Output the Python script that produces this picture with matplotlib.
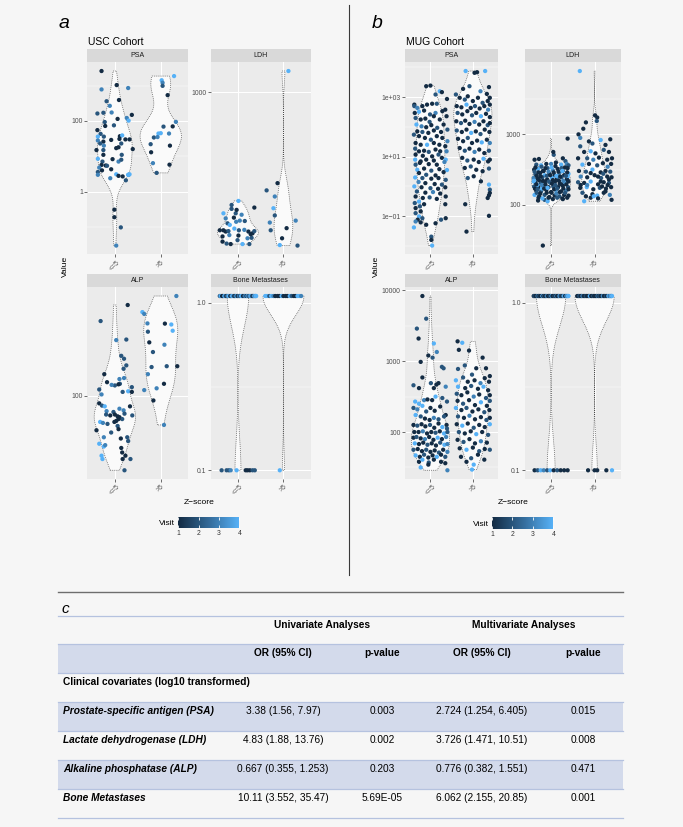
import numpy as np
import matplotlib
matplotlib.use('Agg')
import matplotlib.pyplot as plt
from matplotlib.colors import LinearSegmentedColormap, Normalize
from matplotlib.cm import ScalarMappable
from matplotlib.patches import Rectangle

W, H = 683, 827
plt.rcParams['font.family'] = ['Liberation Sans', 'DejaVu Sans']

groups = ['<=5', '>5']

# ---------------- USC cohort (raw values) ----------------
usc_psa_le5 = [2570, 776, 1030, 850, 360, 267, 390, 162, 170, 173, 114, 121, 148, 93, 102, 72, 75, 55, 43, 36,
               36, 37, 39, 30, 31, 30, 28, 26, 23, 29, 23, 20, 15, 15, 17, 18, 16, 11, 11, 8.5,
               7.1, 8.3, 7.1, 8, 5.7, 5.5, 5.4, 4.8, 3.6, 4, 4.3, 3.1, 3, 2.4, 2.7, 2.1, 3, 2.8, 3, 0.31,
               0.19, 0.098, 0.030, 3.1]
usc_psa_le5_jit = [-0.29, -0.29, 0.04, 0.29, -0.18, -0.11, 0.09, -0.38, -0.25, -0.07, 0.06, 0.26, 0.37, -0.22, 0.30,
                   -0.21, -0.02, -0.38, -0.31, -0.37, -0.24, 0.11, 0.16, 0.23, 0.10, 0.32, -0.37, -0.25, -0.32, -0.08,
                   0.14, -0.24, -0.40, -0.25, 0.03, 0.08, 0.39, -0.25, 0.15, -0.37, -0.27, -0.05, 0.08, 0.14, -0.29,
                   -0.20, -0.17, -0.34, -0.37, -0.28, -0.08, 0.03, -0.37, -0.10, 0.17, 0.24, 0.30, 0.08, 0.29, -0.01,
                   -0.01, 0.13, 0.03, 0.32]
usc_psa_le5_vis = [1, 3, 1, 3, 2, 3, 1, 2, 2, 3, 1, 3, 1, 2, 4, 1, 2, 1, 2, 4, 2, 1, 4, 1, 1, 1, 3, 1, 2, 1,
                   2, 3, 1, 2, 1, 1, 1, 1, 2, 4, 2, 1, 3, 2, 1, 1, 2, 3, 2, 1, 1, 4, 3, 3, 1, 2, 3, 1, 4, 1,
                   1, 2, 3, 4]
usc_psa_gt5 = [1850, 1410, 1200, 980, 535, 70, 94, 69, 44, 44, 45, 34, 35, 22, 20, 13, 6.4, 5.8, 3.4]
usc_psa_gt5_jit = [0.29, 0.02, 0.04, 0.04, 0.15, 0.26, 0.33, 0.06, 0.18, -0.05, 0.0, -0.15, -0.07, -0.22, 0.20,
                   -0.21, -0.17, 0.19, -0.09]
usc_psa_gt5_vis = [4, 4, 3, 2, 1, 1, 3, 2, 3, 4, 4, 2, 3, 2, 1, 1, 3, 1, 2]

usc_ldh_le5 = [249, 287, 266, 262, 235, 249, 245, 237, 229, 222, 218, 226, 228, 205, 205, 202, 203, 209, 205, 206,
               202, 198, 203, 191, 194, 193, 187, 188, 180, 176, 175, 183, 175, 175, 196, 274, 259]
usc_ldh_le5_jit = [-0.32, 0.01, 0.36, -0.14, -0.27, -0.05, 0.08, -0.09, 0.04, -0.23, -0.18, -0.04, 0.15, -0.40,
                   -0.32, -0.27, -0.21, -0.08, 0.02, 0.14, 0.23, 0.32, 0.36, -0.34, -0.19, 0.01, 0.21, 0.30, -0.34,
                   -0.25, -0.16, -0.01, 0.10, 0.25, 0.28, -0.14, -0.03]
usc_ldh_le5_vis = [4, 4, 1, 2, 3, 2, 3, 1, 3, 2, 4, 3, 2, 1, 1, 1, 2, 4, 2, 3, 1, 1, 2, 1, 3, 1, 3, 2, 1, 2,
                   1, 2, 4, 2, 1, 2, 1]
usc_ldh_gt5 = [1274, 352, 324, 302, 264, 243, 224, 229, 210, 205, 187, 173, 172]
usc_ldh_gt5_jit = [0.11, -0.13, -0.37, -0.19, -0.22, -0.19, -0.30, 0.27, 0.07, -0.28, -0.03, -0.08, 0.31]
usc_ldh_gt5_vis = [4, 1, 2, 3, 4, 2, 3, 3, 1, 2, 1, 4, 2]

usc_alp_le5 = [400, 313, 234, 236, 184, 176, 159, 139, 151, 129, 131, 123, 117, 118, 110, 102, 120, 119, 107, 114,
               106, 106, 89, 86, 79, 78, 82, 80, 76, 75, 74, 75, 73, 72, 70, 74, 68, 70, 67, 66,
               65, 67, 63, 59, 57, 53, 48, 52, 53, 50, 46, 47, 45, 42, 40, 40, 38, 38, 38, 32, 60, 85, 85]
usc_alp_le5_jit = [0.28, -0.31, 0.03, 0.25, 0.14, 0.20, 0.25, -0.23, 0.19, 0.10, 0.20, -0.17, 0.0, -0.07, -0.34,
                   -0.29, 0.11, 0.08, 0.29, 0.37, 0.17, 0.37, -0.34, -0.28, -0.18, -0.03, 0.10, 0.19, 0.21, -0.19,
                   -0.10, 0.0, 0.06, 0.10, 0.16, 0.38, 0.03, 0.08, -0.32, -0.26, -0.16, -0.01, 0.06, -0.40, -0.08,
                   -0.24, -0.34, 0.13, 0.27, 0.29, -0.24, -0.21, 0.14, 0.16, 0.23, -0.29, -0.27, 0.17, 0.34, 0.21,
                   0.08, 0.33, -0.22]
usc_alp_le5_vis = [1, 2, 3, 2, 2, 2, 2, 1, 2, 3, 3, 1, 2, 3, 2, 3, 2, 1, 4, 2, 2, 1, 1, 2, 3, 2, 3, 3, 2, 2,
                   1, 1, 1, 1, 2, 2, 1, 1, 4, 3, 2, 1, 2, 1, 2, 3, 4, 1, 2, 2, 4, 3, 1, 1, 1, 4, 4, 1, 2, 2,
                   1, 1, 4]
usc_alp_gt5 = [459, 359, 349, 302, 301, 297, 270, 266, 226, 218, 195, 155, 157, 157, 139, 120, 112, 109, 93, 64]
usc_alp_gt5_jit = [0.34, -0.40, -0.36, -0.29, 0.09, 0.23, 0.26, -0.28, -0.25, 0.08, -0.17, -0.20, 0.13, 0.36,
                   -0.28, 0.07, -0.09, -0.36, -0.16, 0.07]
usc_alp_gt5_vis = [3, 4, 3, 3, 1, 4, 4, 2, 1, 3, 2, 2, 2, 1, 3, 1, 3, 3, 1, 3]

# bone metastases coded 1.1 (yes) / 0.1 (no)
usc_bone_le5_yes_jit = [-0.40, -0.38, -0.35, -0.33, -0.30, -0.27, -0.25, -0.23, -0.20, -0.17, -0.15, -0.13, -0.10,
                        -0.08, -0.06, -0.03, -0.01, 0.02, 0.04, 0.07, 0.09, 0.11, 0.14, 0.16, 0.19, 0.21, 0.23,
                        0.26, 0.28, 0.30, 0.32, 0.34, 0.36, 0.38, 0.39, 0.40]
usc_bone_le5_yes_vis = [2, 4, 1, 1, 4, 2, 1, 3, 4, 1, 2, 4, 3, 1, 2, 4, 1, 3, 2, 4, 4, 1, 2, 3, 1, 4, 2, 3, 4, 3,
                        1, 2, 4, 3, 4, 4]
usc_bone_le5_no_jit = [-0.36, -0.25, -0.20, -0.16, -0.03, 0.17, 0.21, 0.26, 0.32, 0.37]
usc_bone_le5_no_vis = [2, 2, 2, 3, 4, 1, 1, 1, 2, 2]
usc_bone_gt5_yes_jit = [-0.40, -0.36, -0.31, -0.27, -0.22, -0.18, -0.13, -0.09, -0.04, 0.0, 0.05, 0.09, 0.14, 0.18,
                        0.23, 0.27, 0.31, 0.35, 0.39]
usc_bone_gt5_yes_vis = [4, 4, 2, 4, 3, 1, 1, 1, 4, 1, 1, 1, 4, 2, 1, 1, 4, 4, 3]
usc_bone_gt5_no_jit = [-0.08]
usc_bone_gt5_no_vis = [4]

# ---------------- MUG cohort (log10 values) ----------------
mug_psa_le5_log = [3.37, 3.39, 3.09, 3.20, 3.17, 2.94, 2.75, 2.70, 2.64, 2.70, 2.75, 2.78, 2.78, 2.58, 2.47, 2.51,
                   2.55, 2.42, 2.47, 2.53, 2.30, 2.25, 2.28, 2.17, 2.36, 2.25, 2.36, 2.08, 2.02, 1.99, 2.06, 1.97,
                   2.08, 1.85, 1.83, 1.80, 1.88, 1.83, 1.91, 1.74, 1.69, 1.63, 1.57, 1.69, 1.63, 1.52, 1.46, 1.40,
                   1.40, 1.46, 1.40, 1.35, 1.27, 1.18, 1.20, 1.16, 1.24, 1.18, 1.18, 1.07, 1.03, 1.01, 1.07, 0.90,
                   0.84, 0.90, 0.87, 0.96, 0.90, 0.73, 0.79, 0.75, 0.73, 0.82, 0.56, 0.60, 0.53, 0.58, 0.55, 0.45,
                   0.39, 0.37, 0.48, 0.30, 0.28, 0.26, 0.28, 0.22, 0.15, 0.11, 0.08, 0.06, 0.00, -0.03, -0.06, -0.08,
                   -0.03, -0.17, -0.21, -0.19, -0.24, -0.34, -0.39, -0.37, -0.42, -0.34, -0.51, -0.56, -0.60, -0.60,
                   -0.73, -0.67, -0.90, -0.84, -1.01, -1.12, -1.07, -1.18, -1.29, -1.24, -1.12, -1.07, -1.38, -1.69,
                   -1.80, -1.99, -1.21]
mug_psa_le5_jit = [-0.10, 0.00, 0.12, 0.22, 0.27, 0.39, -0.38, -0.38, -0.31, -0.19, -0.08, 0.04, 0.15, 0.35, -0.37,
                   -0.27, -0.15, -0.01, 0.12, 0.28, -0.35, -0.23, -0.12, -0.02, 0.08, 0.22, 0.38, -0.33, -0.21,
                   -0.10, 0.02, 0.16, 0.31, -0.31, -0.19, -0.05, 0.08, 0.25, 0.40, -0.39, -0.27, -0.13, 0.01, 0.15,
                   0.28, 0.40, -0.35, -0.23, -0.08, 0.08, 0.21, 0.35, -0.36, -0.27, -0.15, -0.04, 0.12, 0.23, 0.38,
                   -0.35, -0.18, 0.04, 0.19, -0.36, -0.23, -0.10, 0.08, 0.27, 0.36, -0.35, -0.25, -0.04, 0.15, 0.33,
                   -0.31, -0.15, 0.02, 0.21, 0.39, -0.27, -0.10, 0.12, 0.31, -0.36, -0.19, 0.02, 0.19, 0.36, -0.28,
                   -0.12, 0.10, 0.27, -0.38, -0.21, 0.00, 0.18, 0.35, -0.32, -0.12, 0.06, 0.23, -0.35, -0.18, -0.02,
                   0.15, 0.36, -0.27, -0.37, -0.15, 0.35, -0.35, -0.25, -0.35, -0.23, -0.27, -0.30, -0.19, -0.35,
                   -0.10, 0.12, 0.25, 0.36, -0.39, 0.02, 0.02, 0.04, -0.23]
mug_psa_le5_vis = [1, 1, 2, 4, 1, 1, 1, 2, 3, 1, 1, 1, 2, 1, 1, 4, 1, 2, 3, 1, 2, 1, 1, 2, 1, 1, 1, 4, 3, 1,
                   1, 2, 1, 1, 2, 1, 1, 1, 2, 2, 1, 1, 2, 1, 1, 3, 1, 1, 4, 1, 1, 1, 2, 1, 1, 2, 1, 1, 3, 1,
                   1, 1, 2, 4, 1, 1, 1, 1, 4, 2, 1, 1, 1, 3, 4, 1, 2, 1, 4, 1, 2, 1, 1, 4, 2, 1, 1, 2, 3, 1,
                   1, 2, 4, 1, 2, 1, 1, 2, 1, 3, 1, 1, 1, 2, 1, 1, 4, 2, 1, 1, 1, 2, 2, 1, 4, 1, 2, 3, 1, 1,
                   2, 1, 4, 2, 1, 4, 1]
mug_psa_gt5_log = [3.88, 3.82, 3.84, 3.88, 3.34, 3.28, 3.37, 3.20, 3.11, 2.98, 3.09, 2.98, 2.92, 3.03, 2.87, 2.98,
                   2.81, 2.87, 2.75, 2.70, 2.66, 2.75, 2.64, 2.70, 2.62, 2.70, 2.58, 2.47, 2.42, 2.53, 2.39, 2.47,
                   2.36, 2.44, 2.33, 2.19, 2.13, 2.21, 2.10, 2.17, 2.08, 2.19, 2.06, 2.13, 1.88, 1.83, 1.91, 1.80,
                   1.85, 1.76, 1.91, 1.83, 1.60, 1.52, 1.63, 1.46, 1.54, 1.48, 1.57, 1.46, 1.29, 1.20, 1.27, 1.16,
                   1.24, 1.12, 1.20, 0.96, 0.87, 0.90, 0.82, 0.93, 0.84, 0.62, 0.67, 0.56, 0.51, 0.60, 0.90, 0.28,
                   0.34, 0.17, 0.06, -0.11, -0.39, -0.30, -0.22, -0.60, -1.52, -0.99]
mug_psa_gt5_jit = [-0.17, 0.04, 0.10, 0.29, 0.38, -0.23, -0.08, 0.18, 0.33, 0.40, -0.40, -0.31, -0.19, -0.12, 0.00,
                   0.12, 0.23, 0.35, 0.40, -0.38, -0.27, -0.15, -0.05, 0.05, 0.16, 0.27, 0.36, -0.36, -0.25, -0.13,
                   -0.02, 0.08, 0.19, 0.31, 0.40, -0.39, -0.28, -0.18, -0.08, 0.04, 0.15, 0.25, 0.35, 0.40, -0.38,
                   -0.26, -0.15, -0.04, 0.07, 0.18, 0.28, 0.39, -0.35, -0.23, -0.12, -0.02, 0.10, 0.21, 0.33, 0.40,
                   -0.31, -0.19, -0.08, 0.04, 0.15, 0.27, 0.38, -0.25, -0.13, 0.02, 0.14, 0.25, 0.36, -0.19, -0.05,
                   0.08, 0.23, 0.38, 0.40, -0.12, 0.02, 0.19, 0.38, 0.40, 0.35, 0.38, 0.40, -0.18, -0.15, 0.38]
mug_psa_gt5_vis = [4, 1, 1, 4, 1, 1, 2, 3, 1, 1, 2, 1, 2, 1, 1, 1, 2, 1, 1, 1, 1, 4, 1, 2, 1, 1, 3, 2, 1, 1,
                   2, 1, 4, 1, 1, 1, 2, 1, 1, 3, 1, 1, 2, 1, 2, 1, 1, 4, 1, 2, 1, 1, 1, 1, 2, 1, 1, 4, 1, 3,
                   1, 2, 1, 3, 1, 1, 2, 1, 2, 1, 1, 4, 1, 1, 2, 1, 1, 2, 1, 2, 1, 1, 4, 2, 1, 1, 1, 1, 1, 1]

mug_ldh_le5_log = [2.64, 2.65, 2.71, 2.66, 2.94, 2.75, 2.62,
                   2.57, 2.56, 2.58, 2.58, 2.60, 2.57, 2.58, 2.56,
                   2.50, 2.51, 2.48, 2.52, 2.49, 2.51, 2.48, 2.52,
                   2.43, 2.45, 2.42, 2.44, 2.42, 2.45, 2.42, 2.44,
                   2.38, 2.37, 2.39, 2.36, 2.38, 2.37, 2.39, 2.36,
                   2.32, 2.31, 2.33, 2.31, 2.33, 2.30, 2.32, 2.33,
                   2.26, 2.25, 2.27, 2.25, 2.26, 2.25, 2.27, 2.25,
                   2.20, 2.19, 2.21, 2.18, 2.21, 2.19, 2.20,
                   2.14, 2.12, 2.14, 2.11, 2.13, 2.12, 2.14, 2.13,
                   2.06, 2.07, 2.08, 2.08, 2.05,
                   2.33, 2.28, 2.40, 2.40, 2.23,
                   1.42,
                   2.53, 2.54, 2.52, 2.53, 2.55, 2.52, 2.53,
                   2.47, 2.46, 2.48, 2.47, 2.46, 2.47, 2.48, 2.46,
                   2.41, 2.40, 2.41, 2.42, 2.41, 2.40, 2.41,
                   2.34, 2.35, 2.34, 2.33, 2.35, 2.34, 2.34, 2.35,
                   2.29, 2.28, 2.29, 2.30, 2.28, 2.29, 2.29,
                   2.23, 2.22, 2.23, 2.24, 2.22, 2.23, 2.23, 2.22,
                   2.17, 2.16, 2.17, 2.17, 2.16, 2.18, 2.17,
                   2.10, 2.09, 2.10, 2.10, 2.09, 2.10]
mug_ldh_le5_jit = [-0.38, -0.28, 0.06, 0.27, 0.38, 0.05, 0.33,
                   -0.34, -0.23, -0.11, 0.00, 0.11, 0.23, 0.36, 0.40,
                   -0.39, -0.30, -0.19, -0.08, 0.04, 0.15, 0.27, 0.38,
                   -0.36, -0.25, -0.15, -0.04, 0.08, 0.19, 0.30, 0.40,
                   -0.40, -0.31, -0.20, -0.09, 0.02, 0.13, 0.24, 0.36,
                   -0.36, -0.24, -0.14, -0.02, 0.09, 0.20, 0.31, 0.40,
                   -0.39, -0.29, -0.17, -0.06, 0.05, 0.16, 0.27, 0.39,
                   -0.34, -0.23, -0.11, 0.00, 0.11, 0.23, 0.34,
                   -0.38, -0.27, -0.15, -0.04, 0.08, 0.19, 0.30, 0.40,
                   -0.30, -0.15, 0.04, 0.27, -0.08,
                   -0.40, -0.32, 0.38, 0.15, -0.21,
                   -0.19,
                   -0.36, -0.22, -0.13, 0.01, 0.10, 0.24, 0.32,
                   -0.38, -0.29, -0.17, -0.06, 0.06, 0.17, 0.26, 0.37,
                   -0.33, -0.24, -0.10, -0.02, 0.12, 0.21, 0.34,
                   -0.39, -0.28, -0.19, -0.05, 0.04, 0.18, 0.28, 0.38,
                   -0.34, -0.21, -0.13, 0.02, 0.10, 0.23, 0.35,
                   -0.37, -0.31, -0.16, -0.08, 0.07, 0.14, 0.28, 0.40,
                   -0.33, -0.25, -0.10, 0.01, 0.12, 0.20, 0.32,
                   -0.29, -0.20, -0.06, 0.14, 0.26, 0.37]
mug_ldh_le5_vis = [1, 1, 2, 1, 1, 1, 2,
                   2, 4, 1, 3, 1, 4, 3, 2,
                   1, 4, 1, 2, 3, 1, 2, 1,
                   2, 1, 4, 1, 1, 3, 1, 4,
                   3, 1, 2, 1, 4, 1, 2, 1,
                   1, 2, 1, 3, 1, 1, 4, 1,
                   2, 1, 3, 1, 2, 1, 1, 2,
                   1, 2, 1, 1, 4, 1, 3,
                   4, 1, 2, 1, 1, 2, 1, 1,
                   1, 2, 1, 1, 4,
                   4, 4, 4, 3, 4,
                   1,
                   1, 2, 1, 4, 1, 2, 1,
                   2, 1, 1, 3, 1, 1, 4, 1,
                   1, 1, 2, 1, 4, 1, 2,
                   4, 1, 1, 2, 1, 1, 3, 1,
                   1, 3, 1, 1, 2, 1, 1,
                   1, 2, 1, 4, 1, 2, 1, 1,
                   2, 1, 1, 1, 3, 1, 2,
                   1, 4, 1, 2, 1, 1]
mug_ldh_gt5_log = [3.90, 3.27, 3.24, 3.19, 3.17, 3.00, 2.95, 3.08, 2.90, 2.87, 2.92, 2.93, 2.85, 2.83, 2.75, 2.76,
                   2.73, 2.78, 2.75, 2.66, 2.66, 2.64, 2.67, 2.64, 2.66, 2.57, 2.58, 2.56, 2.59, 2.54, 2.58, 2.48,
                   2.47, 2.50, 2.46, 2.48, 2.47, 2.40, 2.39, 2.42, 2.38, 2.40, 2.39, 2.32, 2.31, 2.33, 2.29, 2.32,
                   2.31, 2.24, 2.25, 2.22, 2.24, 2.23, 2.25, 2.17, 2.15, 2.13, 2.17, 2.14, 2.10, 2.12, 2.09, 2.07,
                   2.12, 2.05, 2.26, 2.19, 2.28, 2.33, 2.44, 2.36, 2.40, 2.28, 2.28, 2.45]
mug_ldh_gt5_jit = [-0.34, 0.01, 0.06, 0.05, -0.20, -0.37, -0.33, -0.26, -0.13, -0.05, 0.14, 0.36, 0.25, -0.33,
                   -0.24, -0.09, 0.02, 0.21, 0.33, -0.38, -0.17, -0.03, 0.10, 0.29, 0.40, -0.28, -0.13, 0.06, 0.19,
                   0.30, 0.38, -0.36, -0.20, -0.05, 0.14, 0.25, 0.36, -0.32, -0.17, 0.00, 0.15, 0.29, 0.39, -0.38,
                   -0.24, -0.09, 0.08, 0.21, 0.33, -0.33, -0.18, -0.03, 0.12, 0.26, 0.38, -0.28, -0.05, 0.06, 0.21,
                   0.35, -0.09, -0.02, 0.08, 0.39, -0.20, -0.24, 0.17, 0.25, 0.30, 0.14, 0.20, 0.33, 0.08, -0.17,
                   -0.32, -0.09]
mug_ldh_gt5_vis = [4, 1, 1, 2, 1, 1, 3, 1, 1, 2, 4, 1, 1, 2, 1, 4, 1, 2, 1, 1, 2, 3, 1, 1, 1, 4, 1, 2, 1, 3,
                   1, 1, 2, 4, 1, 1, 2, 3, 1, 1, 2, 1, 1, 2, 1, 4, 1, 1, 2, 1, 4, 1, 2, 1, 1, 2, 1, 4, 1, 3,
                   1, 4, 1, 1, 1, 4, 1, 1, 1, 1, 2, 1, 1, 3, 1, 1]

mug_alp_le5_log = [3.92, 3.60, 3.46, 3.32, 3.25, 3.13, 3.05, 3.08, 2.99, 2.92, 2.77, 2.66, 2.62, 2.69, 2.90, 2.64,
                   2.69, 2.62, 2.67,
                   2.43, 2.40, 2.45, 2.46, 2.45, 2.50, 2.48, 2.43, 2.34, 2.32, 2.37, 2.29, 2.34, 2.30, 2.36, 2.24,
                   2.24, 2.22, 2.19, 2.17, 2.20, 2.18, 2.22, 2.10,
                   2.10, 2.09, 2.11, 2.08, 2.10, 2.06, 2.12, 2.07, 2.05,
                   2.00, 2.00, 2.01, 1.98, 2.00, 1.99, 2.01, 1.98, 2.00,
                   1.92, 1.93, 1.91, 1.90, 1.93, 1.89, 1.92, 1.90, 1.93,
                   1.84, 1.83, 1.85, 1.82, 1.84, 1.81, 1.85, 1.82, 1.83,
                   1.75, 1.76, 1.73, 1.75, 1.72, 1.74, 1.71, 1.75, 1.72,
                   1.67, 1.65, 1.68, 1.64, 1.67, 1.65, 1.68, 1.65,
                   1.58, 1.57, 1.61, 1.56, 1.61, 1.58, 1.50, 1.54, 1.46]
mug_alp_le5_jit = [-0.19, -0.10, -0.32, -0.28, 0.08, 0.15, 0.05, -0.05, -0.23, 0.27, -0.19, -0.40, -0.27, 0.01,
                   0.31, 0.36, 0.19, 0.08, 0.14,
                   -0.36, -0.27, -0.15, -0.07, 0.04, 0.12, 0.28, 0.39, -0.40, -0.31, -0.19, -0.10, 0.00, 0.10,
                   0.23, 0.36, -0.35, -0.23, -0.13, -0.02, 0.08, 0.19, 0.32, 0.38,
                   -0.40, -0.31, -0.21, -0.12, -0.01, 0.09, 0.19, 0.28, 0.39,
                   -0.38, -0.28, -0.18, -0.08, 0.02, 0.12, 0.22, 0.32, 0.40,
                   -0.40, -0.33, -0.23, -0.13, -0.03, 0.07, 0.17, 0.27, 0.37,
                   -0.37, -0.27, -0.17, -0.07, 0.03, 0.13, 0.23, 0.33, 0.40,
                   -0.40, -0.30, -0.20, -0.10, 0.00, 0.10, 0.20, 0.30, 0.40,
                   -0.35, -0.25, -0.15, -0.05, 0.05, 0.15, 0.25, 0.35,
                   -0.27, -0.04, 0.08, 0.35, -0.19, 0.25, -0.23, -0.05, 0.40]
mug_alp_le5_vis = [1, 2, 2, 1, 4, 3, 2, 1, 1, 2, 1, 2, 1, 2, 2, 3, 1, 1, 1,
                   4, 4, 3, 1, 1, 4, 2, 2, 2, 3, 4, 2, 1, 1, 1, 1, 4, 2, 1, 1, 3, 2, 2, 1,
                   1, 2, 1, 1, 2, 1, 1, 4, 2,
                   1, 1, 3, 1, 1, 2, 1, 4, 2,
                   1, 2, 1, 3, 1, 1, 4, 1, 3,
                   4, 1, 1, 2, 1, 1, 2, 4, 3,
                   2, 1, 1, 2, 1, 1, 2, 1, 3,
                   4, 1, 2, 1, 1, 4, 1, 2,
                   1, 2, 1, 1, 4, 1, 4, 1, 3]
mug_alp_gt5_log = [3.28, 3.26, 3.16, 3.15, 3.05, 2.79, 2.94, 2.90, 2.89, 2.81, 2.90,
                   2.73, 2.77, 2.71, 2.73, 2.69, 2.76, 2.71,
                   2.64, 2.62, 2.65, 2.61, 2.64, 2.59,
                   2.54, 2.52, 2.56, 2.50, 2.53, 2.48, 2.52,
                   2.44, 2.40, 2.45, 2.38, 2.42, 2.37, 2.44,
                   2.34, 2.31, 2.34, 2.29, 2.32, 2.28, 2.31,
                   2.22, 2.20, 2.23, 2.18, 2.21, 2.17, 2.20,
                   2.11, 2.09, 2.12, 2.06, 2.10, 2.07, 2.11,
                   2.00, 1.98, 2.01, 1.97, 2.00, 1.96,
                   1.89, 1.86, 1.90, 1.84, 1.87, 1.85,
                   1.77, 1.75, 1.78, 1.73, 1.76, 1.75,
                   1.65, 1.63, 1.68, 1.61, 1.58, 1.54, 1.47]
mug_alp_gt5_jit = [-0.36, -0.25, -0.33, -0.09, 0.23, 0.40, -0.19, 0.08, -0.35, -0.02, 0.31,
                   -0.40, -0.23, -0.12, 0.04, 0.18, 0.28, 0.38,
                   -0.35, -0.18, -0.04, 0.12, 0.25, 0.36,
                   -0.38, -0.27, -0.13, 0.02, 0.15, 0.31, 0.40,
                   -0.36, -0.23, -0.09, 0.05, 0.19, 0.33, 0.40,
                   -0.40, -0.27, -0.15, -0.01, 0.13, 0.27, 0.39,
                   -0.35, -0.21, -0.08, 0.05, 0.19, 0.32, 0.40,
                   -0.38, -0.25, -0.12, 0.02, 0.15, 0.28, 0.40,
                   -0.33, -0.19, -0.05, 0.08, 0.22, 0.36,
                   -0.36, -0.22, -0.08, 0.05, 0.19, 0.33,
                   -0.31, -0.15, 0.00, 0.15, 0.28, 0.40,
                   -0.28, -0.04, 0.12, 0.27, -0.15, 0.02, -0.02]
mug_alp_gt5_vis = [1, 4, 1, 1, 1, 1, 2, 1, 2, 2, 1,
                   4, 2, 1, 1, 3, 1, 1,
                   4, 1, 2, 1, 4, 1,
                   2, 1, 1, 3, 1, 2, 1,
                   1, 2, 1, 1, 4, 1, 2,
                   4, 1, 2, 1, 1, 2, 1,
                   2, 1, 3, 1, 1, 2, 1,
                   1, 4, 1, 2, 1, 1, 4,
                   2, 1, 1, 4, 1, 2,
                   1, 2, 1, 1, 3, 1,
                   1, 4, 1, 2, 1, 2,
                   1, 2, 1, 1, 1, 4, 4]

mug_bone_le5_yes_jit = [-0.40, -0.38, -0.36, -0.34, -0.31, -0.29, -0.27, -0.25, -0.22, -0.20, -0.18, -0.16, -0.14,
                        -0.12, -0.10, -0.07, -0.05, -0.03, -0.01, 0.01, 0.03, 0.06, 0.08, 0.10, 0.12, 0.14, 0.16,
                        0.18, 0.20, 0.22, 0.24, 0.26, 0.28, 0.30, 0.32, 0.34, 0.36, 0.37, 0.39, 0.40]
mug_bone_le5_yes_vis = [1, 2, 1, 1, 3, 1, 2, 1, 1, 4, 1, 2, 1, 1, 3, 1, 1, 2, 1, 4, 1, 1, 2, 1, 3, 1, 1, 2, 4, 1,
                        2, 1, 3, 4, 1, 2, 4, 3, 4, 4]
mug_bone_le5_no_jit = [-0.38, -0.31, -0.24, -0.17, -0.09, -0.02, 0.06, 0.14, 0.22, 0.30, 0.38]
mug_bone_le5_no_vis = [1, 2, 4, 3, 2, 4, 1, 2, 1, 1, 1]
mug_bone_gt5_yes_jit = [-0.40, -0.37, -0.35, -0.32, -0.30, -0.28, -0.25, -0.23, -0.20, -0.18, -0.15, -0.13, -0.11,
                        -0.08, -0.06, -0.03, -0.01, 0.02, 0.04, 0.07, 0.09, 0.11, 0.14, 0.16, 0.19, 0.21, 0.23,
                        0.26, 0.28, 0.31, 0.33, 0.35, 0.37, 0.38, 0.39, 0.40]
mug_bone_gt5_yes_vis = [1, 1, 2, 1, 1, 3, 1, 1, 2, 1, 1, 1, 4, 1, 1, 2, 1, 1, 1, 3, 1, 2, 1, 1, 4, 1, 1, 2, 1, 3,
                        4, 2, 4, 4, 3, 4]
mug_bone_gt5_no_jit = [-0.15, 0.0, 0.06, 0.27, 0.40]
mug_bone_gt5_no_vis = [1, 1, 1, 1, 4]

# ---------------- table ----------------
covariates = ['Prostate-specific antigen (PSA)', 'Lactate dehydrogenase (LDH)',
              'Alkaline phosphatase (ALP)', 'Bone Metastases']
or_uni = ['3.38 (1.56, 7.97)', '4.83 (1.88, 13.76)', '0.667 (0.355, 1.253)', '10.11 (3.552, 35.47)']
p_uni = ['0.003', '0.002', '0.203', '5.69E-05']
or_multi = ['2.724 (1.254, 6.405)', '3.726 (1.471, 10.51)', '0.776 (0.382, 1.551)', '6.062 (2.155, 20.85)']
p_multi = ['0.015', '0.008', '0.471', '0.001']

cmap = LinearSegmentedColormap.from_list('visit', ['#132B43', '#336A98', '#56B1F7'])
norm = Normalize(1, 4)

fig = plt.figure(figsize=(W / 100, H / 100), dpi=100, facecolor='#F6F6F6')


def ax_px(x0, y0, x1, y1):
    return fig.add_axes([x0 / W, 1 - y1 / H, (x1 - x0) / W, (y1 - y0) / H])


def txt(x, y, s, **kw):
    fig.text(x / W, 1 - y / H, s, **kw)


def nrd0(v):
    sd = np.std(v, ddof=1)
    q75, q25 = np.percentile(v, [75, 25])
    lo = min(sd, (q75 - q25) / 1.34)
    if lo == 0:
        lo = sd if sd > 0 else (abs(v[0]) or 1.0)
    return 0.9 * lo * len(v) ** -0.2


def grp(vals, jit, vis, log=False):
    n = min(len(vals), len(jit), len(vis))
    v = np.asarray(vals[:n], float)
    return (v if log else np.log10(v)), np.asarray(jit[:n]), np.asarray(vis[:n])


def bone(yes_jit, yes_vis, no_jit, no_vis):
    vals = [1.1] * len(yes_jit) + [0.1] * len(no_jit)
    return grp(vals, list(yes_jit) + list(no_jit), list(yes_vis) + list(no_vis))


def panel(x0, x1, y0, y1, name, data, ticks, labels, minor):
    strip = ax_px(x0, y0 - 13, x1, y0)
    strip.set_facecolor('#D9D9D9')
    strip.set_xticks([])
    strip.set_yticks([])
    for s in strip.spines.values():
        s.set_visible(False)
    strip.text(0.5, 0.5, name, ha='center', va='center', fontsize=5, color='#1A1A1A',
               transform=strip.transAxes)

    ax = ax_px(x0, y0, x1, y1)
    ax.set_facecolor('#EBEBEB')
    for s in ax.spines.values():
        s.set_visible(False)

    # violins (ggplot-like: trimmed, scale = "area" within the panel)
    curves = []
    for v, _, _ in data:
        g = np.linspace(v.min(), v.max(), 512)
        bw = nrd0(v)
        d = np.exp(-0.5 * ((g[:, None] - v[None, :]) / bw) ** 2).sum(1) / (len(v) * bw * np.sqrt(2 * np.pi))
        curves.append((g, d))
    dmax = max(d.max() for _, d in curves)
    for i, (g, d) in enumerate(curves):
        w = 0.45 * d / dmax
        ax.fill(np.r_[i + 1 - w, (i + 1 + w)[::-1]], np.r_[g, g[::-1]], fc='#FAFAFA', ec='#4A4A4A',
                lw=0.55, ls=(0, (1, 1.5)), zorder=2)
    for i, (v, j, c) in enumerate(data):
        ax.scatter(i + 1 + j, v, c=c, cmap=cmap, norm=norm, s=9.5, lw=0, zorder=3)

    lo = min(v.min() for v, _, _ in data)
    hi = max(v.max() for v, _, _ in data)
    pad = 0.05 * (hi - lo)
    ax.set_ylim(lo - pad, hi + pad)
    ax.set_xlim(0.4, 2.6)
    ax.set_yticks(ticks, labels)
    ax.set_yticks([m for m in minor if lo - pad < m < hi + pad], minor=True)
    ax.set_xticks([1, 2], groups, rotation=45, ha='center', va='top')
    ax.grid(True, which='major', color='white', lw=0.75)
    ax.grid(True, which='minor', axis='y', color='white', lw=0.35)
    ax.set_axisbelow(True)
    ax.tick_params(which='major', length=2, width=0.5, color='#333333', labelsize=4.9,
                   labelcolor='#4D4D4D', pad=1.2)
    ax.tick_params(which='minor', length=0)
    return ax


def colorbar(x0, x1, y0, y1):
    cax = ax_px(x0, y0, x1, y1)
    cb = fig.colorbar(ScalarMappable(norm=norm, cmap=cmap), cax=cax, orientation='horizontal')
    cb.outline.set_visible(False)
    cb.set_ticks([1, 2, 3, 4])
    cax.tick_params(length=2.2, width=0.6, color='white', direction='in', top=True, labeltop=False,
                    labelsize=4.9, labelcolor='#333333', pad=1.2)
    txt(x0 - 3, (y0 + y1) / 2 + 1, 'Visit', fontsize=6.1, ha='right', va='center')


# ---------------- panel a : USC ----------------
TOP = (62.3, 254.3)
BOT = (287.3, 479.0)
panel(87.3, 188.3, *TOP, 'PSA',
      [grp(usc_psa_le5, usc_psa_le5_jit, usc_psa_le5_vis), grp(usc_psa_gt5, usc_psa_gt5_jit, usc_psa_gt5_vis)],
      [0, 2], ['1', '100'], [-1, 1, 3])
panel(210.7, 310.7, *TOP, 'LDH',
      [grp(usc_ldh_le5, usc_ldh_le5_jit, usc_ldh_le5_vis), grp(usc_ldh_gt5, usc_ldh_gt5_jit, usc_ldh_gt5_vis)],
      [3], ['1000'], [])
panel(87.3, 188.3, *BOT, 'ALP',
      [grp(usc_alp_le5, usc_alp_le5_jit, usc_alp_le5_vis), grp(usc_alp_gt5, usc_alp_gt5_jit, usc_alp_gt5_vis)],
      [2], ['100'], [])
panel(210.7, 310.7, *BOT, 'Bone Metastases',
      [bone(usc_bone_le5_yes_jit, usc_bone_le5_yes_vis, usc_bone_le5_no_jit, usc_bone_le5_no_vis),
       bone(usc_bone_gt5_yes_jit, usc_bone_gt5_yes_vis, usc_bone_gt5_no_jit, usc_bone_gt5_no_vis)],
      [-1, 0], ['0.1', '1.0'], [-0.5])

# ---------------- panel b : MUG ----------------
panel(405.0, 498.3, *TOP, 'PSA',
      [grp(mug_psa_le5_log, mug_psa_le5_jit, mug_psa_le5_vis, log=True),
       grp(mug_psa_gt5_log, mug_psa_gt5_jit, mug_psa_gt5_vis, log=True)],
      [-1, 1, 3], ['1e\u221201', '1e+01', '1e+03'], [-2, 0, 2, 4])
panel(525.0, 620.7, *TOP, 'LDH',
      [grp(mug_ldh_le5_log, mug_ldh_le5_jit, mug_ldh_le5_vis, log=True),
       grp(mug_ldh_gt5_log, mug_ldh_gt5_jit, mug_ldh_gt5_vis, log=True)],
      [2, 3], ['100', '1000'], [1.5, 2.5, 3.5])
panel(405.0, 498.3, *BOT, 'ALP',
      [grp(mug_alp_le5_log, mug_alp_le5_jit, mug_alp_le5_vis, log=True),
       grp(mug_alp_gt5_log, mug_alp_gt5_jit, mug_alp_gt5_vis, log=True)],
      [2, 3, 4], ['100', '1000', '10000'], [1.5, 2.5, 3.5])
panel(525.0, 620.7, *BOT, 'Bone Metastases',
      [bone(mug_bone_le5_yes_jit, mug_bone_le5_yes_vis, mug_bone_le5_no_jit, mug_bone_le5_no_vis),
       bone(mug_bone_gt5_yes_jit, mug_bone_gt5_yes_vis, mug_bone_gt5_no_jit, mug_bone_gt5_no_vis)],
      [-1, 0], ['0.1', '1.0'], [-0.5])

colorbar(178.3, 239.3, 516.7, 528.3)
colorbar(492.0, 553.3, 517.0, 529.0)

txt(64, 23, 'a', fontsize=14, style='italic', ha='center', va='center')
txt(377, 23, 'b', fontsize=14, style='italic', ha='center', va='center')
txt(87.7, 41.7, 'USC Cohort', fontsize=7.5, ha='left', va='center')
txt(405.7, 41.7, 'MUG Cohort', fontsize=7.5, ha='left', va='center')
for xv in (65.7, 376.0):
    txt(xv, 266, 'Value', fontsize=6.1, rotation=90, ha='center', va='center')
for xz in (199.0, 513.0):
    txt(xz, 502, 'Z\u2212score', fontsize=6.1, ha='center', va='center')
fig.add_artist(plt.Line2D([349 / W, 349 / W], [1 - 5 / H, 1 - 575 / H], color='#3A3A3A', lw=0.8))

# ---------------- table c ----------------
tab = fig.add_axes([0, 0, 1, 1])
tab.set_xlim(0, W)
tab.set_ylim(H, 0)
tab.axis('off')
tfont = ['Liberation Sans Narrow', 'Liberation Sans']
fs = 7.3
tab.plot([58, 623], [592, 592], color='#6E6E6E', lw=1.0)
for y0, y1 in [(644, 673), (702, 731), (760, 789)]:
    tab.add_patch(Rectangle((58, y0), 623 - 58, y1 - y0, fc='#D3DAEB', ec='none'))
for y in [616, 644, 673, 702, 731, 760, 789, 818]:
    tab.plot([58, 623], [y, y], color='#B5C2DF', lw=0.9)
tab.text(61, 609, 'c', fontsize=11, style='italic', va='center', ha='left')
tab.text(322, 625, 'Univariate Analyses', family=tfont, weight='bold', fontsize=fs, ha='center', va='center')
tab.text(524, 625, 'Multivariate Analyses', family=tfont, weight='bold', fontsize=fs, ha='center', va='center')
col_x = [283, 382, 482, 583]
for cx, head in zip(col_x, ['OR (95% CI)', 'p-value', 'OR (95% CI)', 'p-value']):
    tab.text(cx, 653, head, family=tfont, weight='bold', fontsize=fs, ha='center', va='center')
tab.text(63, 682, 'Clinical covariates (log10 transformed)', family=tfont, weight='bold', fontsize=fs,
         ha='left', va='center')
for k, name in enumerate(covariates):
    yy = 711 + 29 * k
    tab.text(63, yy, name, family=tfont, weight='bold', style='italic', fontsize=fs, ha='left', va='center')
    for cx, val in zip(col_x, [or_uni[k], p_uni[k], or_multi[k], p_multi[k]]):
        tab.text(cx, yy, val, family=tfont, fontsize=fs, ha='center', va='center')

fig.savefig('out.png', dpi=100, facecolor=fig.get_facecolor())
